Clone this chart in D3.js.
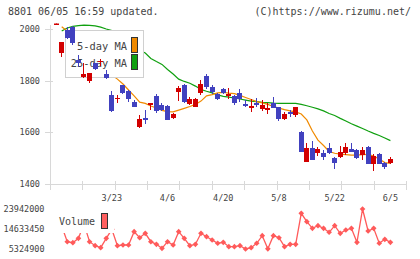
<!DOCTYPE html>
<html>
<head>
<meta charset="utf-8">
<script src="https://d3js.org/d3.v7.min.js"></script>
<style>
  body { margin: 0; background: #fff; }
  svg text { font-family: "DejaVu Sans Mono", monospace; fill: #444; }
</style>
</head>
<body>
<div id="chart"></div>
<script>
// chart size
const FRAME_WIDTH = 420;
const FRAME_HEIGHT = 259;

// date labels on the bottom axis (index of trading day -> label)
const TICK_IDX = [10, 20, 30, 40, 50, 60];
const TICK_LABELS = ["3/23", "4/6", "4/20", "5/8", "5/22", "6/5"];
const PRICE_TICKS = [1400, 1600, 1800, 2000];
const VOL_TICKS = [5324900, 14633450, 23942000];

// daily prices
const OPEN = [2016, 1906, 1995, 2007, 1880, 1813, 1800, 1867, 1873, 1825,
  1745, 1729, 1783, 1760, 1719, 1622, 1655, 1706, 1741, 1706,
  1702, 1657, 1757, 1783, 1708, 1699, 1753, 1818, 1777, 1748,
  1768, 1741, 1741, 1751, 1710, 1695, 1715, 1690, 1686, 1712,
  1697, 1652, 1678, 1667, 1602, 1486, 1538, 1519, 1519, 1538,
  1502, 1506, 1519, 1536, 1532, 1512, 1544, 1476, 1516, 1480, 1480];
const HIGH = [2050, 1950, 2008, 2012, 1899, 1867, 1830, 1870, 1883, 1841,
  1761, 1745, 1785, 1762, 1725, 1667, 1686, 1714, 1748, 1712,
  1706, 1674, 1779, 1787, 1738, 1732, 1803, 1826, 1783, 1753,
  1771, 1770, 1745, 1768, 1725, 1729, 1732, 1725, 1712, 1738,
  1698, 1678, 1686, 1697, 1606, 1560, 1568, 1544, 1532, 1558,
  1503, 1547, 1558, 1558, 1536, 1542, 1547, 1516, 1519, 1486, 1506];
const LOW = [2016, 1893, 1962, 1938, 1854, 1812, 1792, 1843, 1857, 1805,
  1680, 1715, 1750, 1719, 1697, 1618, 1631, 1686, 1676, 1683,
  1647, 1652, 1721, 1715, 1706, 1697, 1745, 1768, 1748, 1725,
  1749, 1729, 1706, 1719, 1697, 1680, 1697, 1684, 1671, 1693,
  1645, 1648, 1661, 1658, 1525, 1486, 1492, 1510, 1493, 1518,
  1458, 1502, 1512, 1524, 1496, 1493, 1476, 1452, 1476, 1458, 1477];
const CLOSE = [2045, 1950, 1964, 1946, 1867, 1825, 1828, 1846, 1877, 1809,
  1684, 1734, 1751, 1729, 1699, 1652, 1653, 1712, 1684, 1686,
  1648, 1671, 1773, 1719, 1729, 1729, 1787, 1777, 1757, 1729,
  1751, 1748, 1715, 1728, 1703, 1702, 1706, 1706, 1695, 1695,
  1652, 1671, 1674, 1697, 1525, 1539, 1493, 1534, 1506, 1519,
  1480, 1523, 1542, 1525, 1500, 1532, 1476, 1510, 1476, 1465, 1497];

// moving averages as drawn
const MA5 = [null, 2009, 1992, 1975, 1955, 1930, 1900, 1880, 1860, 1840,
  1822, 1806, 1787, 1764, 1741, 1717, 1712, 1702, 1694, 1685,
  1680, 1679, 1686, 1693, 1700, 1708, 1721, 1741, 1746, 1753,
  1755, 1752, 1750, 1743, 1735, 1727, 1719, 1714, 1708, 1700,
  1694, 1688, 1683, 1679, 1671, 1648, 1605, 1570, 1549, 1526,
  1519, 1516, 1514, 1512, 1512, 1514, 1515, 1508, 1497, 1483, 1480];
const MA25 = [null, 1992, 2004, 2010, 2013, 2015, 2014, 2012, 2007, 2000,
  1994, 1975, 1960, 1945, 1930, 1918, 1907, 1886, 1874, 1863,
  1843, 1826, 1806, 1797, 1790, 1779, 1766, 1759, 1753, 1745,
  1739, 1736, 1733, 1729, 1725, 1721, 1719, 1716, 1715, 1713,
  1712, 1712, 1712, 1712, 1708, 1703, 1697, 1691, 1683, 1673,
  1665, 1654, 1644, 1633, 1624, 1615, 1605, 1596, 1588, 1578, 1568];

const VOLUME = [17500000, 16000000, 8720000, 8260000, 10300000, 17000000, 8720000, 6860000, 5930000, 10300000,
  14500000, 6860000, 7190000, 7190000, 13380000, 10580000, 12630000, 8720000, 7510000, 5650000,
  8720000, 7190000, 13380000, 10300000, 6860000, 7510000, 12630000, 11050000, 9510000, 7980000,
  8440000, 6400000, 6400000, 6860000, 5324900, 5930000, 7980000, 11520000, 5400000, 11520000,
  10580000, 6400000, 7510000, 7510000, 21940000, 18030000, 14960000, 16170000, 14960000, 13100000,
  16170000, 12630000, 14170000, 14960000, 8440000, 23942000, 13700000, 14960000, 7980000, 9840000, 8440000];

const COLORS = {up: "#d20000", down: "#4141bf", ma5: "#f08a00", ma25: "#10a010",
                vol: "#ff5a5a", axis: "#d8d8d8"};

const svg = d3.select("#chart")
  .append("svg")
    .attr("width", FRAME_WIDTH)
    .attr("height", FRAME_HEIGHT);

// scales
const X_SCALE = d3.scaleLinear().domain([-1.1, 62.8]).range([50, 406]);
const Y_SCALE = d3.scaleLinear().domain([1400, 2015.5]).range([184, 25]);
const GRID = d3.scaleLinear().domain([0, 11]).range([50, 406]);
const V_SCALE = d3.scaleLinear().domain([VOL_TICKS[0], VOL_TICKS[2]]).range([249, 209]);

// header texts
svg.append("text").attr("x", 8).attr("y", 14.5)
  .attr("font-size", "10px").text("8801 06/05 16:59 updated.");
svg.append("text").attr("x", 411).attr("y", 14.5).attr("text-anchor", "end")
  .attr("font-size", "10px").text("(C)https://www.rizumu.net/");

// axes
const axis = svg.append("g").attr("stroke", COLORS.axis).attr("shape-rendering", "crispEdges");
axis.append("line").attr("x1", 50.5).attr("x2", 50.5).attr("y1", 25).attr("y2", 190);
axis.append("line").attr("x1", 45).attr("x2", 406).attr("y1", 184.5).attr("y2", 184.5);
axis.selectAll(".gx").data(d3.range(12)).enter().append("line")
  .attr("x1", d => Math.round(GRID(d)) + 0.5).attr("x2", d => Math.round(GRID(d)) + 0.5)
  .attr("y1", 181).attr("y2", 190);
axis.selectAll(".gy").data(PRICE_TICKS).enter().append("line")
  .attr("x1", 45).attr("x2", 53)
  .attr("y1", d => Math.round(Y_SCALE(d)) + 0.5).attr("y2", d => Math.round(Y_SCALE(d)) + 0.5);

svg.selectAll(".py").data(PRICE_TICKS).enter().append("text")
  .attr("x", 40).attr("y", d => Y_SCALE(d) + 3)
  .attr("text-anchor", "end").attr("font-size", "8.5px").text(d => d);
svg.selectAll(".px").data(TICK_IDX).enter().append("text")
  .attr("x", d => X_SCALE(d)).attr("y", 201)
  .attr("text-anchor", "middle").attr("font-size", "8.5px")
  .text((d, i) => TICK_LABELS[i]);

// clip for the price panel
svg.append("clipPath").attr("id", "pclip")
  .append("rect").attr("x", 50).attr("y", 23.5).attr("width", 360).attr("height", 161);

// moving averages
const maLine = d3.line()
  .defined(d => d != null)
  .x((d, i) => X_SCALE(i))
  .y(d => Y_SCALE(d));

const lines = svg.append("g").attr("clip-path", "url(#pclip)");
lines.append("path").datum(MA25).attr("d", maLine)
  .attr("fill", "none").attr("stroke", COLORS.ma25).attr("stroke-width", 1.2);
lines.append("path").datum(MA5).attr("d", maLine)
  .attr("fill", "none").attr("stroke", COLORS.ma5).attr("stroke-width", 1.2);

// price legend
const leg = svg.append("g");
leg.append("rect").attr("x", 65.5).attr("y", 30.5).attr("width", 78).attr("height", 47)
  .attr("fill", "#fff").attr("stroke", "#d0d0d0");
leg.append("text").attr("x", 127).attr("y", 50).attr("text-anchor", "end")
  .attr("font-size", "10.4px").text("5-day MA");
leg.append("text").attr("x", 127).attr("y", 67).attr("text-anchor", "end")
  .attr("font-size", "10.4px").text("25-day MA");
leg.append("rect").attr("x", 131.5).attr("y", 37.5).attr("width", 6).attr("height", 15)
  .attr("fill", COLORS.ma5).attr("stroke", "#333");
leg.append("rect").attr("x", 131.5).attr("y", 54.5).attr("width", 6).attr("height", 15)
  .attr("fill", COLORS.ma25).attr("stroke", "#333");

// candles
const candles = svg.append("g").attr("clip-path", "url(#pclip)")
  .attr("shape-rendering", "crispEdges");
const days = d3.range(OPEN.length);
const col = i => (CLOSE[i] >= OPEN[i] ? COLORS.up : COLORS.down);
const left = i => Math.round(X_SCALE(i) - 2.5);

candles.selectAll(".wick").data(days).enter().append("line")
  .attr("x1", i => left(i) + 2.5).attr("x2", i => left(i) + 2.5)
  .attr("y1", i => Y_SCALE(HIGH[i])).attr("y2", i => Y_SCALE(LOW[i]))
  .attr("stroke", col);
candles.selectAll(".body").data(days).enter().append("rect")
  .attr("x", left).attr("width", 5)
  .attr("y", i => Y_SCALE(Math.max(OPEN[i], CLOSE[i])))
  .attr("height", i => Math.max(1.5, Y_SCALE(Math.min(OPEN[i], CLOSE[i])) - Y_SCALE(Math.max(OPEN[i], CLOSE[i]))))
  .attr("fill", col);

// volume panel
const volLine = d3.line().x((d, i) => X_SCALE(i)).y(d => V_SCALE(d));
svg.append("path").datum(VOLUME).attr("d", volLine)
  .attr("fill", "none").attr("stroke", COLORS.vol).attr("stroke-width", 1.3);
svg.selectAll(".vp").data(VOLUME).enter().append("rect")
  .attr("x", -2).attr("y", -2).attr("width", 4).attr("height", 4)
  .attr("transform", (d, i) => "translate(" + X_SCALE(i) + "," + V_SCALE(d) + ") rotate(45)")
  .attr("fill", COLORS.vol);

svg.selectAll(".vy").data(VOL_TICKS).enter().append("text")
  .attr("x", 44.5).attr("y", d => V_SCALE(d) + 3)
  .attr("text-anchor", "end").attr("font-size", "8.5px").text(d => d);

// volume legend
svg.append("rect").attr("x", 52).attr("y", 204).attr("width", 62).attr("height", 29)
  .attr("fill", "#fff");
svg.append("text").attr("x", 59).attr("y", 225).attr("font-size", "10px").text("Volume");
svg.append("rect").attr("x", 101.5).attr("y", 213.5).attr("width", 6).attr("height", 15)
  .attr("fill", "#ff6060").attr("stroke", "#333");
</script>
</body>
</html>
